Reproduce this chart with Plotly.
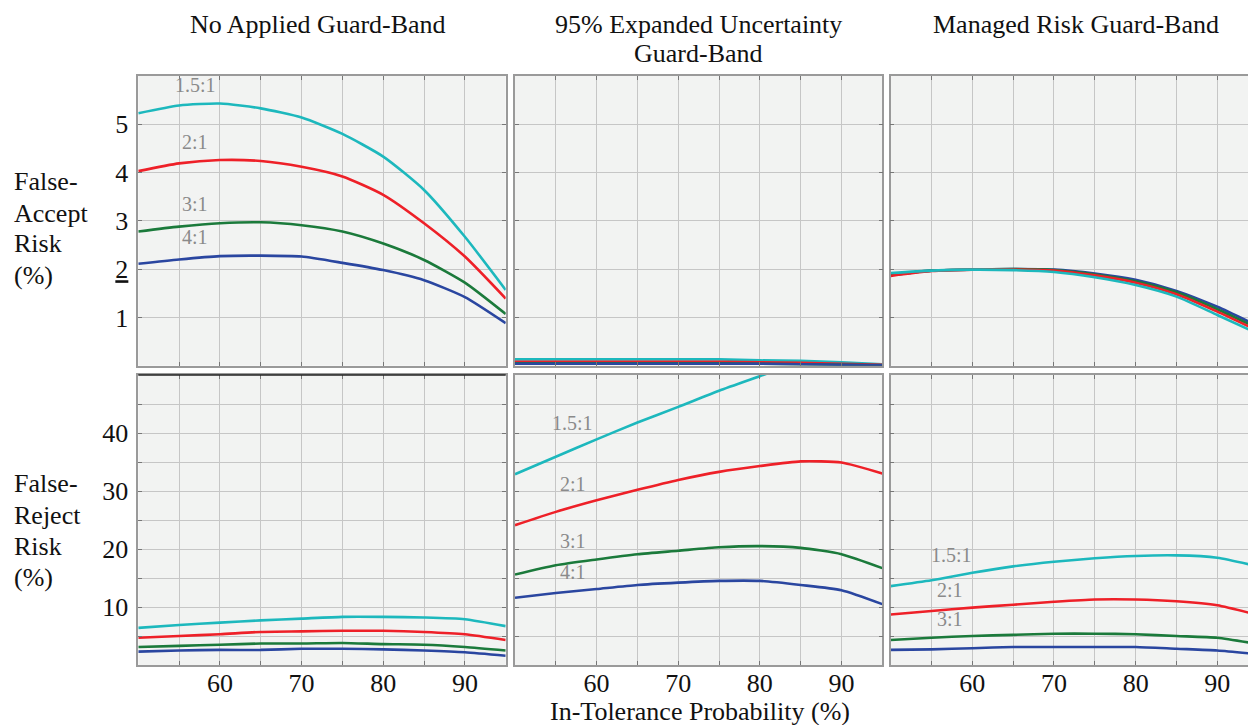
import plotly.graph_objects as go
from plotly.subplots import make_subplots

# ---------------- data ----------------
x_prob = [50, 55, 60, 65, 70, 75, 80, 85, 90, 95]
ratios = ["1.5:1", "2:1", "3:1", "4:1"]
colors = ["#1db8bd", "#ee2028", "#1b7a3b", "#2a46a0"]

# False-accept risk (%), no guard band
fa_none_15 = [5.23, 5.39, 5.43, 5.33, 5.14, 4.80, 4.33, 3.64, 2.67, 1.57]
fa_none_2 = [4.03, 4.19, 4.26, 4.24, 4.12, 3.92, 3.54, 2.95, 2.26, 1.39]
fa_none_3 = [2.78, 2.88, 2.95, 2.97, 2.91, 2.78, 2.53, 2.19, 1.72, 1.07]
fa_none_4 = [2.11, 2.20, 2.27, 2.28, 2.26, 2.13, 1.98, 1.77, 1.42, 0.88]

# False-accept risk (%), 95% expanded uncertainty guard band
fa_u95_15 = [0.13, 0.13, 0.13, 0.13, 0.13, 0.13, 0.11, 0.10, 0.07, 0.03]
fa_u95_2 = [0.08, 0.08, 0.08, 0.08, 0.08, 0.08, 0.07, 0.06, 0.04, 0.02]
fa_u95_3 = [0.05, 0.05, 0.05, 0.05, 0.05, 0.05, 0.04, 0.03, 0.02, 0.01]
fa_u95_4 = [0.04, 0.04, 0.04, 0.04, 0.04, 0.04, 0.04, 0.03, 0.02, 0.01]

# False-accept risk (%), managed risk guard band
fa_mr_15 = [1.92, 1.97, 1.99, 1.98, 1.94, 1.83, 1.67, 1.43, 1.05, 0.66]
fa_mr_2 = [1.86, 1.96, 1.99, 1.99, 1.97, 1.87, 1.72, 1.48, 1.12, 0.72]
fa_mr_3 = [1.88, 1.97, 1.99, 2.00, 1.98, 1.89, 1.75, 1.52, 1.17, 0.77]
fa_mr_4 = [1.88, 1.97, 1.99, 2.00, 1.99, 1.91, 1.78, 1.55, 1.22, 0.82]

# False-reject risk (%), no guard band
fr_none_15 = [6.4, 6.9, 7.3, 7.7, 8.0, 8.3, 8.3, 8.2, 7.9, 6.7]
fr_none_2 = [4.7, 5.0, 5.3, 5.7, 5.8, 5.9, 5.9, 5.7, 5.3, 4.3]
fr_none_3 = [3.1, 3.3, 3.5, 3.7, 3.7, 3.8, 3.6, 3.5, 3.1, 2.5]
fr_none_4 = [2.3, 2.5, 2.6, 2.6, 2.8, 2.8, 2.7, 2.5, 2.2, 1.6]

# False-reject risk (%), 95% expanded uncertainty guard band
fr_u95_15 = [32.9, 35.9, 38.9, 41.8, 44.5, 47.3, 49.8, 52.3, 54.5, 56.5]
fr_u95_2 = [24.1, 26.4, 28.4, 30.2, 31.9, 33.3, 34.3, 35.1, 34.9, 33.0]
fr_u95_3 = [15.6, 17.2, 18.2, 19.1, 19.7, 20.3, 20.5, 20.2, 19.1, 16.7]
fr_u95_4 = [11.6, 12.4, 13.1, 13.8, 14.2, 14.5, 14.5, 13.8, 12.9, 10.5]

# False-reject risk (%), managed risk guard band
fr_mr_15 = [13.6, 14.6, 15.9, 17.0, 17.8, 18.4, 18.8, 18.9, 18.5, 17.0]
fr_mr_2 = [8.7, 9.3, 9.9, 10.4, 10.9, 11.3, 11.3, 11.0, 10.3, 8.6]
fr_mr_3 = [4.3, 4.7, 5.0, 5.2, 5.4, 5.4, 5.3, 5.0, 4.7, 3.6]
fr_mr_4 = [2.6, 2.7, 2.9, 3.1, 3.1, 3.1, 3.1, 2.8, 2.5, 1.85]

col_titles = [["No Applied Guard-Band"],
              ["95% Expanded Uncertainty", "Guard-Band"],
              ["Managed Risk Guard-Band"]]
row_fa_label = ["False-", "Accept", "Risk", "(%)"]
row_fr_label = ["False-", "Reject", "Risk", "(%)"]
x_title = "In-Tolerance Probability (%)"

x_tickvals = [50, 55, 60, 65, 70, 75, 80, 85, 90, 95]
x_ticktext = ["", "", "60", "", "70", "", "80", "", "90", ""]
fa_tickvals = [0, 1, 2, 3, 4, 5, 6]
fa_ticktext = ["", "1", '<span style="text-decoration:underline">2</span>', "3", "4", "5", ""]
fr_tickvals = [0, 5, 10, 15, 20, 25, 30, 35, 40, 45, 50]
fr_ticktext = ["", "", "10", "", "20", "", "30", "", "40", "", ""]

# curve labels: (row, col, text, x, y)
curve_labels = [
    (1, 1, "1.5:1", 57.0, 5.81), (1, 1, "2:1", 57.0, 4.64),
    (1, 1, "3:1", 57.0, 3.35), (1, 1, "4:1", 57.0, 2.67),
    (2, 2, "1.5:1", 57.1, 41.8), (2, 2, "2:1", 57.1, 31.2),
    (2, 2, "3:1", 57.1, 21.4), (2, 2, "4:1", 57.1, 16.1),
    (2, 3, "1.5:1", 57.4, 18.9), (2, 3, "2:1", 57.3, 13.0),
    (2, 3, "3:1", 57.3, 8.0),
]

panels = {
    (1, 1): [fa_none_15, fa_none_2, fa_none_3, fa_none_4],
    (1, 2): [fa_u95_15, fa_u95_2, fa_u95_3, fa_u95_4],
    (1, 3): [fa_mr_4, fa_mr_3, fa_mr_2, fa_mr_15],
    (2, 1): [fr_none_15, fr_none_2, fr_none_3, fr_none_4],
    (2, 2): [fr_u95_15, fr_u95_2, fr_u95_3, fr_u95_4],
    (2, 3): [fr_mr_15, fr_mr_2, fr_mr_3, fr_mr_4],
}
panel_colors = {k: colors for k in panels}
panel_colors[(1, 3)] = colors[::-1]

# ---------------- figure ----------------
W, H = 1248, 725
SERIF = "Liberation Serif, Times New Roman, serif"
fig = make_subplots(rows=2, cols=3)

for (r, c), series in panels.items():
    for ys, col in zip(series, panel_colors[(r, c)]):
        fig.add_trace(go.Scatter(x=x_prob, y=ys, mode="lines",
                                 line=dict(color=col, width=2.6, shape="spline", smoothing=0.6),
                                 showlegend=False, hoverinfo="skip"),
                      row=r, col=c)

# domains in pixels
x_dom_px = [(138.3, 505.7), (515.0, 882.3), (890.7, 1248.0)]
y_dom_px = [(76.0, 365.7), (375.0, 665.0)]
px_per_unit = (505.7 - 138.3) / 45.0
right_max = 50 + (1248.0 - 890.7) / px_per_unit

grid = "#c6c6c6"
frame = "#9a9a9a"
bg = "#f2f3f2"

for r in (1, 2):
    for c in (1, 2, 3):
        idx = (r - 1) * 3 + c
        xs = "xaxis" if idx == 1 else f"xaxis{idx}"
        ys = "yaxis" if idx == 1 else f"yaxis{idx}"
        x0, x1 = x_dom_px[c - 1]
        y0, y1 = y_dom_px[r - 1]
        fig.layout[xs].update(
            domain=[x0 / W, x1 / W],
            range=[50, 95 if c < 3 else right_max],
            tickmode="array", tickvals=x_tickvals, ticktext=x_ticktext,
            showticklabels=(r == 2), ticks="inside", ticklen=4, tickcolor="#777",
            showgrid=True, gridcolor=grid, gridwidth=1,
            showline=True, linecolor=frame, linewidth=1.5, mirror="ticks",
            zeroline=False, fixedrange=True,
            tickfont=dict(family=SERIF, size=26, color="#111"),
            ticklabelstandoff=-6,
        )
        fig.layout[ys].update(
            domain=[1 - y1 / H, 1 - y0 / H],
            range=[0, 6] if r == 1 else [0, 50],
            tickmode="array",
            tickvals=fa_tickvals if r == 1 else fr_tickvals,
            ticktext=fa_ticktext if r == 1 else fr_ticktext,
            showticklabels=(c == 1), ticks="inside", ticklen=4, tickcolor="#777",
            showgrid=True, gridcolor=grid, gridwidth=1,
            showline=True, linecolor=frame, linewidth=1.5,
            mirror=("ticks" if c < 3 else False),
            zeroline=False, fixedrange=True,
            tickfont=dict(family=SERIF, size=26, color="#111"),
            ticklabelstandoff=3,
        )

annotations = []
# column titles
title_x = [318, 698, 1076]
for i, lines in enumerate(col_titles):
    for j, t in enumerate(lines):
        annotations.append(dict(text=t, x=title_x[i] / W, y=1 - (25 + 29 * j) / H,
                                xref="paper", yref="paper",
                                xanchor="center", yanchor="middle", showarrow=False,
                                font=dict(family=SERIF, size=26, color="#111")))
# row labels
for lines, ys in ((row_fa_label, [182, 213, 244, 276]), (row_fr_label, [484, 515, 546, 577])):
    for t, yy in zip(lines, ys):
        annotations.append(dict(text=t, x=12 / W, y=1 - yy / H, xref="paper", yref="paper",
                                xanchor="left", yanchor="middle", showarrow=False,
                                font=dict(family=SERIF, size=26, color="#111")))
# x title
annotations.append(dict(text=x_title, x=700 / W, y=1 - 711 / H, xref="paper", yref="paper",
                        xanchor="center", yanchor="middle", showarrow=False,
                        font=dict(family=SERIF, size=26, color="#111")))
# curve labels
for r, c, t, xv, yv in curve_labels:
    idx = (r - 1) * 3 + c
    annotations.append(dict(text=t, x=xv, y=yv, xref=f"x{idx if idx > 1 else ''}",
                            yref=f"y{idx if idx > 1 else ''}", showarrow=False,
                            xanchor="center", yanchor="middle",
                            font=dict(family=SERIF, size=20, color="#8a8a8a")))

# darker top edge of the lower-left panel (as in the reference)
shapes = [dict(type="line", xref="paper", yref="paper",
               x0=x_dom_px[0][0] / W, x1=x_dom_px[0][1] / W,
               y0=1 - y_dom_px[1][0] / H, y1=1 - y_dom_px[1][0] / H,
               line=dict(color="#222", width=1.5), layer="above")]

fig.update_layout(
    width=W, height=H, margin=dict(l=0, r=0, t=0, b=0),
    paper_bgcolor="white", plot_bgcolor=bg,
    annotations=annotations, shapes=shapes, showlegend=False,
)

fig.write_html("out.html", config={"displayModeBar": False},
               post_script="document.body.style.margin='0';document.body.style.overflow='hidden';")
